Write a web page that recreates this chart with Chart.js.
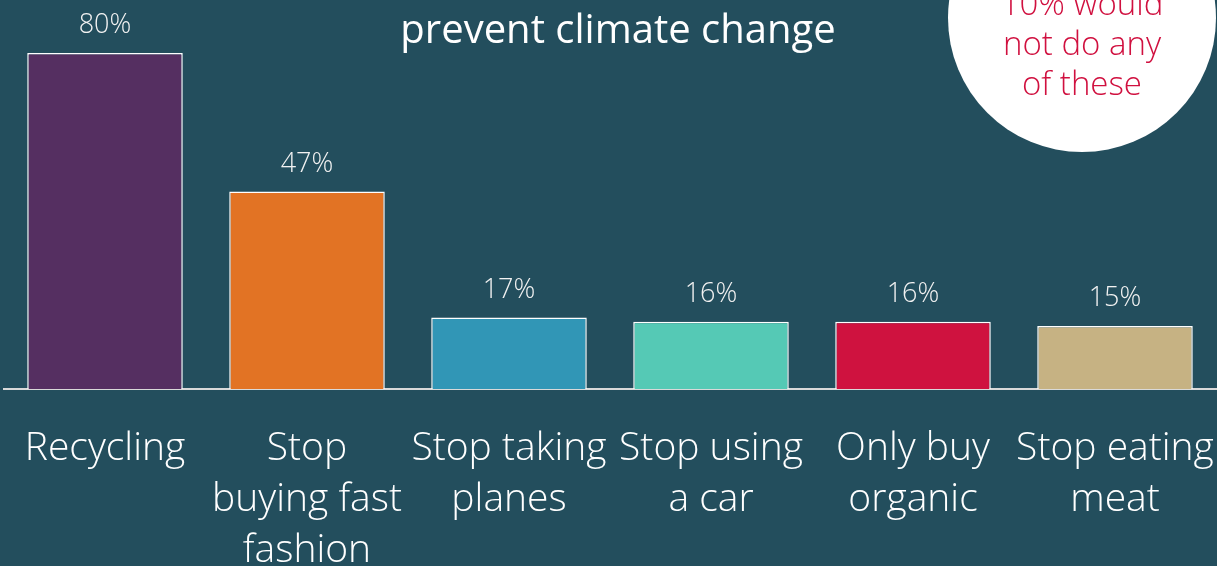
<!doctype html>
<html lang="en">
<head>
    <meta charset="utf-8">
    <title>Climate change actions</title>
    <style type="text/css">
        body, html {
            margin: 0;
            padding: 0;
            overflow: hidden;
            background: #234e5d;
        }
    </style>
    <script src="https://cdn.jsdelivr.net/npm/chart.js@4/dist/chart.umd.min.js"></script>
</head>
<body>
    <canvas id="chart" width="1217" height="566"></canvas>
    <script>
        const categories = [
            ["Recycling"],
            ["Stop", "buying fast", "fashion"],
            ["Stop taking", "planes"],
            ["Stop using", "a car"],
            ["Only buy", "organic"],
            ["Stop eating", "meat"],
        ];
        const shares = [80, 47, 17, 16, 16, 15];
        const barColors = ["#552f61", "#e27324", "#3196b6", "#55c9b5", "#cf123f", "#c6b283"];
        const titleText = "prevent climate change";
        const bubbleLines = ["10% would", "not do any", "of these"];

        const bg = "#234e5d";
        const lightFont = "'Open Sans', 'DejaVu Sans', sans-serif";

        // background, headline, white bubble, value labels
        const decor = {
            id: "decor",
            beforeDraw(chart) {
                const ctx = chart.ctx;
                ctx.save();
                ctx.fillStyle = bg;
                ctx.fillRect(0, 0, chart.width, chart.height);
                ctx.restore();
            },
            afterDatasetsDraw(chart) {
                const ctx = chart.ctx;
                const meta = chart.getDatasetMeta(0);
                ctx.save();
                ctx.fillStyle = "#f2f2f2";
                ctx.font = "300 27px " + lightFont;
                ctx.textAlign = "center";
                ctx.textBaseline = "alphabetic";
                meta.data.forEach((bar, i) => {
                    ctx.fillText(shares[i] + "%", bar.x, bar.y - 20);
                });
                ctx.restore();
            },
            afterDraw(chart) {
                const ctx = chart.ctx;
                ctx.save();
                ctx.fillStyle = "#ffffff";
                ctx.font = "400 40px " + lightFont;
                ctx.textAlign = "center";
                ctx.fillText(titleText, 618, 43);

                ctx.beginPath();
                ctx.arc(1082, 18, 134, 0, Math.PI * 2);
                ctx.fill();

                ctx.fillStyle = "#d0103f";
                ctx.font = "300 33px " + lightFont;
                bubbleLines.forEach((line, i) => {
                    ctx.fillText(line, 1082, 15 + i * 40);
                });
                ctx.restore();
            }
        };

        new Chart(document.getElementById("chart"), {
            type: "bar",
            data: {
                labels: categories,
                datasets: [{
                    data: shares,
                    backgroundColor: barColors,
                    borderColor: "#ffffff",
                    borderWidth: 1.5,
                    barPercentage: 0.77,
                    categoryPercentage: 1,
                }],
            },
            options: {
                responsive: false,
                animation: false,
                layout: {
                    padding: { top: 11, left: 4, right: 1, bottom: 0 },
                },
                plugins: {
                    legend: { display: false },
                    tooltip: { enabled: false },
                },
                scales: {
                    x: {
                        grid: { display: false },
                        border: { display: true, color: "#d9d9d9", width: 2 },
                        ticks: {
                            color: "#ffffff",
                            font: { family: lightFont, size: 39, weight: 300, lineHeight: 1.31 },
                            padding: 26,
                            autoSkip: false,
                            maxRotation: 0,
                        },
                        afterFit(scale) {
                            scale.height = 177;
                            scale.paddingLeft = 0;
                            scale.paddingRight = 0;
                        },
                    },
                    y: {
                        display: false,
                        min: 0,
                        max: 90,
                    },
                },
            },
            plugins: [decor],
        });
    </script>
</body>
</html>
